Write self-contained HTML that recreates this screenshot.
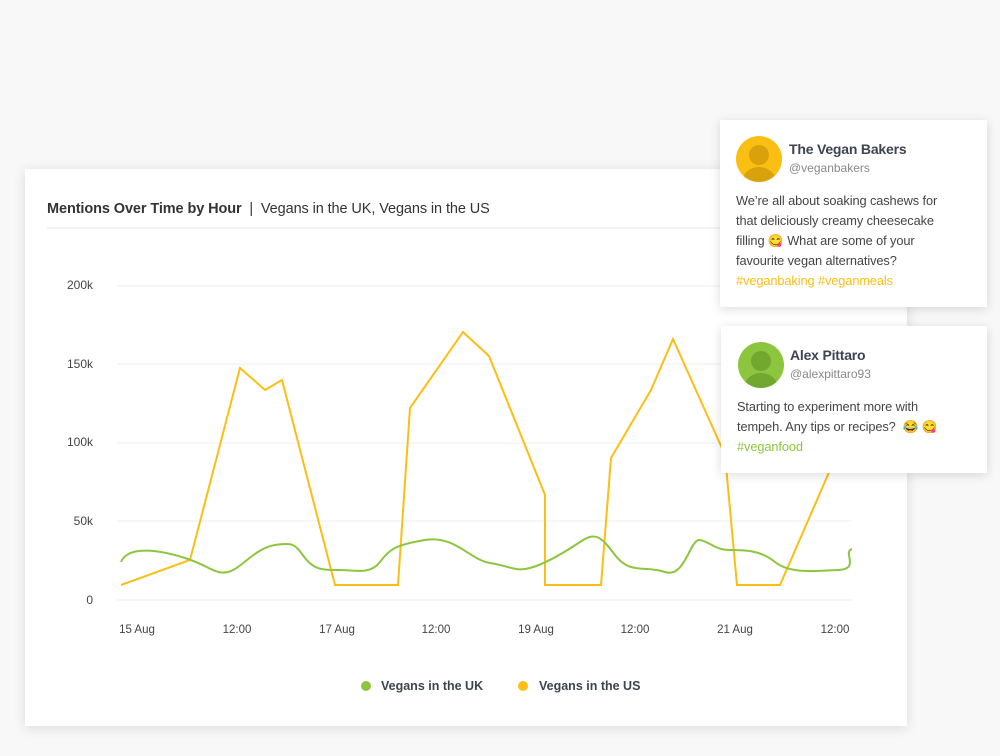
<!DOCTYPE html>
<html><head><meta charset="utf-8"><style>
body{margin:0;width:1000px;height:756px;background:#f8f8f8;font-family:"Liberation Sans",sans-serif;position:relative;overflow:hidden}
.card{position:absolute;left:25px;top:169px;width:882px;height:557px;background:#fff;box-shadow:0 2px 12px rgba(0,0,0,.12)}
.tw{position:absolute;background:#fff;box-shadow:0 2px 10px rgba(0,0,0,.14);color:#444}
.av{position:absolute;width:46px;height:46px;border-radius:50%;overflow:hidden}
.nm{position:absolute;font-weight:bold;font-size:14px;color:#3d4450;letter-spacing:-0.2px}
.hd{position:absolute;font-size:12px;color:#888}
.tx{position:absolute;font-size:12.8px;line-height:20px;color:#444;white-space:nowrap;letter-spacing:-0.1px}
</style></head><body>
<div class="card">
<div style="position:absolute;left:22px;top:32px;font-size:14.5px;color:#333;letter-spacing:-0.1px"><b>Mentions Over Time by Hour</b> &nbsp;|&nbsp; Vegans in the UK, Vegans in the US</div>
<div style="position:absolute;left:22px;top:58px;width:860px;height:2px;background:#f3f3f3"></div>
</div>
<svg style="position:absolute;left:0;top:0" width="1000" height="756">
<g stroke="#eee" stroke-width="1">
<line x1="117" y1="286" x2="852" y2="286"/><line x1="117" y1="364" x2="852" y2="364"/><line x1="117" y1="443" x2="852" y2="443"/><line x1="117" y1="521" x2="852" y2="521"/><line x1="117" y1="600" x2="852" y2="600"/>
</g>
<g font-size="12" fill="#444" text-anchor="end" font-family="Liberation Sans">
<text x="93" y="289">200k</text><text x="93" y="368">150k</text><text x="93" y="446">100k</text><text x="93" y="525">50k</text><text x="93" y="604">0</text>
</g>
<g font-size="11.5" fill="#444" text-anchor="middle" font-family="Liberation Sans">
<text x="137" y="633">15 Aug</text><text x="237" y="633">12:00</text><text x="337" y="633">17 Aug</text><text x="436" y="633">12:00</text><text x="536" y="633">19 Aug</text><text x="635" y="633">12:00</text><text x="735" y="633">21 Aug</text><text x="835" y="633">12:00</text>
</g>
<polyline fill="none" stroke="#fbbf14" stroke-width="2" points="121,585 190,560 240,368 265,390 282,380 335,585 398,585 410,408 463,332 489,356 545,495 545,585 601,585 611,458 651,390 673,339 725,455 737,585 780,585 830,470 852,420"/>
<path fill="none" stroke="#8cc63f" stroke-width="2" d="M121,562 C128,545 160,550 185,558 S215,575 228,572 S255,548 275,545 S295,545 305,558 S325,570 340,570 S370,575 380,562 S395,545 425,540 S470,560 490,563 S515,572 530,568 S565,552 580,542 S600,535 615,555 S645,565 665,572 S690,538 700,540 S715,550 730,550 S760,550 775,562 S815,571 838,570 S842,552 852,549"/>
<circle cx="366" cy="686" r="5" fill="#8cc63f"/><circle cx="523" cy="686" r="5" fill="#fbbf14"/>
<g font-size="12.5" font-weight="bold" fill="#3d4450" font-family="Liberation Sans"><text x="381" y="690">Vegans in the UK</text><text x="539" y="690">Vegans in the US</text></g>
</svg>
<div class="tw" style="left:720px;top:120px;width:267px;height:187px">
<div class="av" style="left:16px;top:16px;background:#fbbf14"><div style="position:absolute;left:13px;top:9px;width:20px;height:20px;border-radius:50%;background:#d9a20d"></div><div style="position:absolute;left:6px;top:31px;width:34px;height:30px;border-radius:50%;background:#d9a20d"></div></div>
<div class="nm" style="left:69px;top:21px">The Vegan Bakers</div><div class="hd" style="left:69px;top:41px">@veganbakers</div>
<div class="tx" style="left:16px;top:71px">We’re all about soaking cashews for<br>that deliciously creamy cheesecake<br>filling 😋 What are some of your<br>favourite vegan alternatives?<br><span style="color:#fbbf14">#veganbaking #veganmeals</span></div>
</div>
<div class="tw" style="left:721px;top:326px;width:266px;height:147px">
<div class="av" style="left:17px;top:16px;background:#8cc63f"><div style="position:absolute;left:13px;top:9px;width:20px;height:20px;border-radius:50%;background:#72a82f"></div><div style="position:absolute;left:6px;top:31px;width:34px;height:30px;border-radius:50%;background:#72a82f"></div></div>
<div class="nm" style="left:69px;top:21px">Alex Pittaro</div><div class="hd" style="left:69px;top:41px">@alexpittaro93</div>
<div class="tx" style="left:16px;top:71px">Starting to experiment more with<br>tempeh. Any tips or recipes?&nbsp; 😂 😋<br><span style="color:#8cc63f">#veganfood</span></div>
</div>
</body></html>
